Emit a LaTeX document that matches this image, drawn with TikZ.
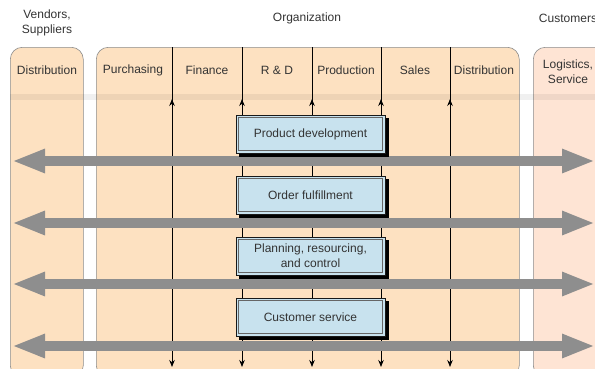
\documentclass[tikz,border=0pt]{standalone}
\usepackage{fontspec}
\setmainfont{Liberation Sans}
\usetikzlibrary{positioning, arrows.meta, decorations.markings}
\definecolor{peach}{HTML}{FDE1C1}
\definecolor{blush}{HTML}{FEE4D4}
\definecolor{procblue}{HTML}{C8E2EE}
\definecolor{flowgray}{HTML}{8E8E8E}
\definecolor{inkgray}{HTML}{333333}
\tikzset{>=Stealth,
  panel/.style={draw=black!45, line width=0.6pt, fill=peach, rounded corners=12pt, minimum height=330pt, anchor=north west, inner sep=0pt},
  colhead/.style={text=inkgray, font=\fontsize{12}{15}\selectfont, align=center},
  procshadow/.style={rectangle, fill=black, minimum width=150pt, minimum height=39pt},
  process/.style={rectangle, draw=black!90, line width=0.9pt, fill=procblue, minimum width=149pt, minimum height=38pt, text=inkgray, font=\fontsize{12}{15}\selectfont, align=center,
    path picture={\draw[black!60, line width=0.6pt] ([shift={(2.6pt,2.6pt)}]path picture bounding box.south west) rectangle ([shift={(-2.6pt,-2.6pt)}]path picture bounding box.north east);}},
  flow/.style={draw=flowgray, line width=10pt, {Triangle[length=33pt,width=22pt]}-{Triangle[length=33pt,width=22pt]}},
  wire/.style={draw=black, line width=0.8pt, -{Stealth[length=7pt,width=5.5pt]}, postaction={decorate}, decoration={markings, mark=at position 52pt with {\arrowreversed{Stealth[length=7pt,width=5.5pt]}}}}}

\begin{document}
\begin{tikzpicture}[x=1pt, y=1pt]
    \useasboundingbox (0,0) rectangle (595,368);
    % the three parties
    \node[panel, minimum width=73pt] (vendors) at (10,321) {};
    \node[panel, minimum width=423pt] (org) at (96,321) {};
    \node[panel, minimum width=80pt, fill=blush] (customers) at (533,321) {};
    \fill[black, opacity=0.06] (10,268) rectangle (595,274);

    \node[colhead] (vendhead) at (47,345) {Vendors,\\Suppliers};
    \node[colhead] (orghead) at (307,350) {Organization};
    \node[colhead] (custhead) at (568,350) {Customers};

    \node[colhead] (vdistr) at (47,298) {Distribution};
    \node[colhead] (purch) at (133,298) {Purchasing};
    \node[colhead] (finance) at (207,298) {Finance};
    \node[colhead] (rnd) at (277,298) {R \& D};
    \node[colhead] (prod) at (346,298) {Production};
    \node[colhead] (sales) at (415,298) {Sales};
    \node[colhead] (odistr) at (484,298) {Distribution};
    \node[colhead] (logist) at (568,296) {Logistics,\\Service};

    % function lines
    \coordinate (top1) at (172,321); \coordinate (bot1) at (172,1);
    \coordinate (top2) at (242,321); \coordinate (bot2) at (242,1);
    \coordinate (top3) at (312,321); \coordinate (bot3) at (312,1);
    \coordinate (top4) at (381,321); \coordinate (bot4) at (381,1);
    \coordinate (top5) at (450,321); \coordinate (bot5) at (450,1);
    \draw[wire] (top1) -- (bot1);
    \draw[wire] (top2) -- (bot2);
    \draw[wire] (top3) -- (bot3);
    \draw[wire] (top4) -- (bot4);
    \draw[wire] (top5) -- (bot5);

    % process flows
    \coordinate (west1) at (12,207); \coordinate (east1) at (595,207);
    \coordinate (west2) at (12,145); \coordinate (east2) at (595,145);
    \coordinate (west3) at (12,84); \coordinate (east3) at (595,84);
    \coordinate (west4) at (12,22); \coordinate (east4) at (595,22);
    \draw[flow] (west1) -- (east1);
    \draw[flow] (west2) -- (east2);
    \draw[flow] (west3) -- (east3);
    \draw[flow] (west4) -- (east4);

    \node[procshadow] (develshadow) at (314,230.5) {};
    \node[procshadow] (ordershadow) at (314,169.5) {};
    \node[procshadow] (planshadow) at (314,108.5) {};
    \node[procshadow] (serviceshadow) at (314,47.5) {};
    \node[process] (devel) at (310.5,234) {Product development};
    \node[process] (order) at (310.5,173) {Order fulfillment};
    \node[process] (planning) at (310.5,112) {Planning, resourcing,\\and control};
    \node[process] (service) at (310.5,51) {Customer service};
\end{tikzpicture}
\end{document}
